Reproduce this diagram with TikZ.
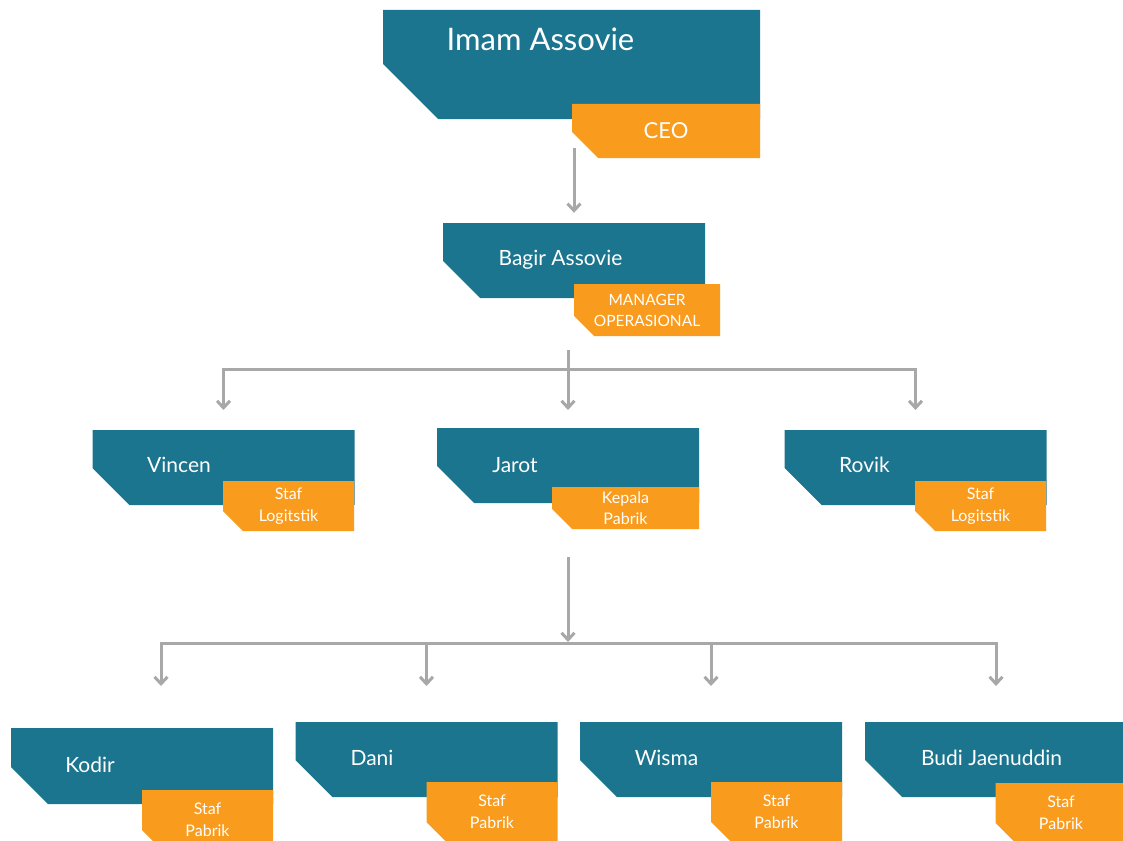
\documentclass[tikz,border=0pt]{standalone}
\usepackage{fontspec}
\setmainfont{Lato}
\usetikzlibrary{arrows.meta}

\definecolor{orgteal}{HTML}{1C758F}
\definecolor{orgorange}{HTML}{F99B1D}
\definecolor{orggray}{HTML}{A8A8A8}

% box with the lower left corner cut off
\newcommand{\cutfill}[2]{\fill[#1] (path picture bounding box.north west) -- (path picture bounding box.north east) -- (path picture bounding box.south east) -- ([xshift=#2]path picture bounding box.south west) -- ([yshift=#2]path picture bounding box.south west) -- cycle;}

\tikzset{
	namebox/.style={minimum width=262pt, minimum height=75pt, inner sep=0pt, path picture={\cutfill{orgteal}{#1}}},
	namebox/.default=37pt,
	rolebox/.style={minimum width=131pt, minimum height=50pt, inner sep=0pt, text=white, align=center, font=\fontsize{16}{22}\selectfont, path picture={\cutfill{orgorange}{#1}}},
	rolebox/.default=20pt,
	nametext/.style={text=white, anchor=base, inner sep=0pt, font=\fontsize{21}{25}\selectfont},
	wire/.style={orggray, line width=3pt},
	conn/.style={wire, -{Straight Barb[length=7pt,width=13pt]}},
}

\begin{document}
\begin{tikzpicture}[x=1pt, y=-1pt]
	\useasboundingbox (0,0) rectangle (1123,840);
	\clip (0,0) rectangle (1123,840);

	% top
	\node[namebox=55pt, minimum width=377pt, minimum height=109pt] (imam) at (571.5,64.5) {};
	\node[rolebox=26pt, minimum width=188pt, minimum height=54pt, font=\fontsize{22}{26}\selectfont] (ceo) at (666,131) {CEO};
	\node[nametext, font=\fontsize{31}{37}\selectfont] (imam-name) at (540.5,51) {Imam Assovie};

	\node[namebox] (bagir) at (574,260.5) {};
	\node[rolebox, minimum width=146pt, minimum height=52pt, font=\fontsize{15.5}{21}\selectfont] (mgr) at (647,310) {MANAGER\\OPERASIONAL};
	\node[nametext] (bagir-name) at (560.5,265) {Bagir Assovie};

	% second row
	\node[namebox] (vincen) at (223.5,467.5) {};
	\node[rolebox] (vincen-role) at (288.5,506) {Staf\\Logitstik};
	\node[nametext] (vincen-name) at (179,472) {Vincen};

	\node[namebox] (jarot) at (568,465.5) {};
	\node[rolebox, minimum width=147pt, minimum height=42pt, font=\fontsize{16}{21}\selectfont] (jarot-role) at (625.5,508) {Kepala\\Pabrik};
	\node[nametext] (jarot-name) at (515,472) {Jarot};

	\node[namebox] (rovik) at (915.5,467.5) {};
	\node[rolebox] (rovik-role) at (980.5,506) {Staf\\Logitstik};
	\node[nametext] (rovik-name) at (864.5,472) {Rovik};

	% third row
	\node[namebox, minimum height=76pt] (kodir) at (142,766) {};
	\node[rolebox, minimum height=60pt] (kodir-role) at (207.5,820) {Staf\\Pabrik};
	\node[nametext] (kodir-name) at (90,772) {Kodir};

	\node[namebox] (dani) at (426.5,759.5) {};
	\node[rolebox, minimum height=60pt] (dani-role) at (492,812) {Staf\\Pabrik};
	\node[nametext] (dani-name) at (372,765) {Dani};

	\node[namebox] (wisma) at (711,759.5) {};
	\node[rolebox, minimum height=60pt] (wisma-role) at (776.5,812) {Staf\\Pabrik};
	\node[nametext] (wisma-name) at (666.5,765) {Wisma};

	\node[namebox] (budi) at (996,759.5) {};
	\node[rolebox, minimum height=60pt] (budi-role) at (1061,813) {Staf\\Pabrik};
	\node[nametext] (budi-name) at (991.5,765) {Budi Jaenuddin};

	% arrows
	\draw[conn, shorten <=29pt, shorten >=10pt] (imam.south -| bagir.north) -- (bagir.north);

	\coordinate (bus1) at (568,369);
	\draw[wire, shorten <=52pt] (bagir.south -| jarot.north) -- (bus1);
	\draw[wire, line cap=rect] (vincen.north |- bus1) -- (rovik.north |- bus1);
	\foreach \n in {vincen,jarot,rovik}
		\draw[conn] (\n.north |- bus1) -- ++(0,41);

	\coordinate (bus2) at (568,643);
	\coordinate (kodir-in) at ([xshift=19pt]kodir.north);
	\draw[conn, shorten <=54pt, shorten >=1pt] (jarot.south) -- (bus2);
	\draw[wire, line cap=rect] (kodir-in |- bus2) -- (budi.north |- bus2);
	\foreach \n in {kodir-in,dani.north,wisma.north,budi.north}
		\draw[conn] (\n |- bus2) -- ++(0,43);
\end{tikzpicture}
\end{document}
